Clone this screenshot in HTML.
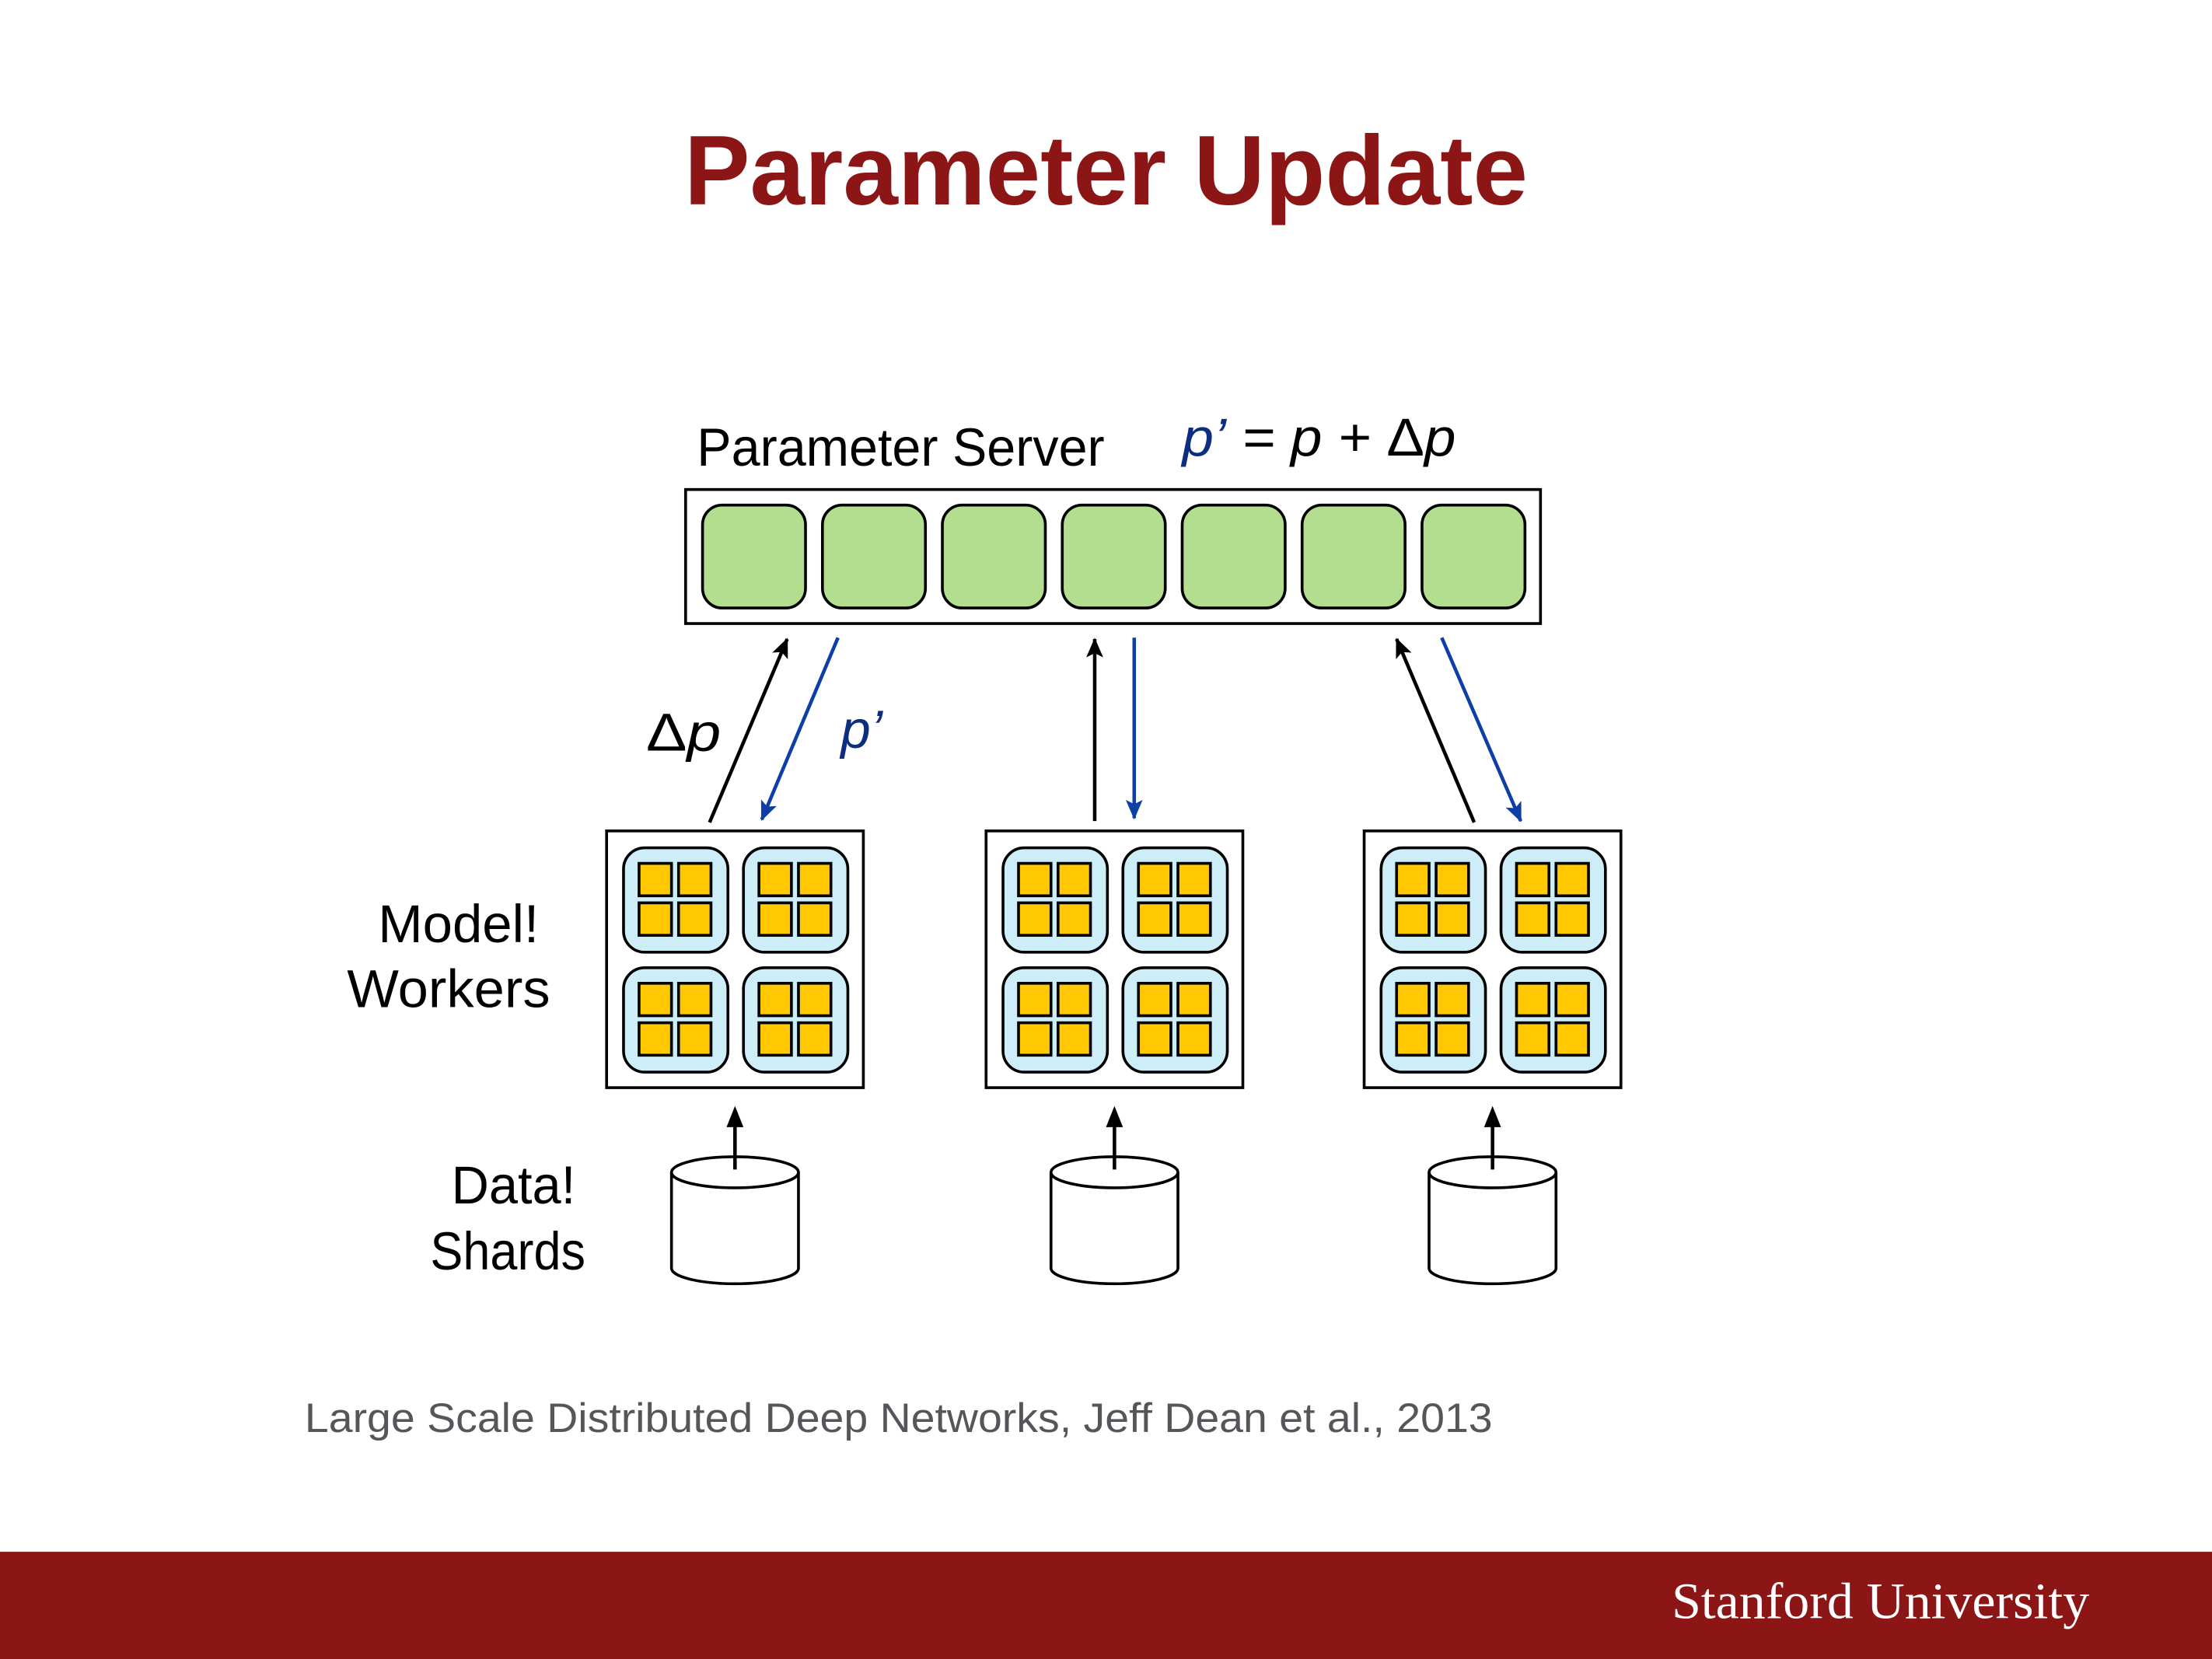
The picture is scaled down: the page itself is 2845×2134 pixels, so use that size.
<!DOCTYPE html>
<html><head><meta charset="utf-8"><style>html,body{margin:0;padding:0;background:#fff}svg{display:block}</style></head>
<body>
<svg width="2845" height="2134" viewBox="0 0 1568 1176" preserveAspectRatio="none" xmlns="http://www.w3.org/2000/svg">
<defs>
<g id="tile">
<rect x="0" y="0" width="74" height="74" rx="15" fill="#cdeef9" stroke="#000" stroke-width="2"/>
<rect x="11" y="11" width="23" height="23" fill="#ffc800" stroke="#000" stroke-width="2"/>
<rect x="39" y="11" width="23" height="23" fill="#ffc800" stroke="#000" stroke-width="2"/>
<rect x="11" y="39" width="23" height="23" fill="#ffc800" stroke="#000" stroke-width="2"/>
<rect x="39" y="39" width="23" height="23" fill="#ffc800" stroke="#000" stroke-width="2"/>
</g>
<g id="worker">
<rect x="0" y="0" width="182" height="182" fill="#fff" stroke="#000" stroke-width="2"/>
<use href="#tile" x="12" y="12"/><use href="#tile" x="97" y="12"/>
<use href="#tile" x="12" y="97"/><use href="#tile" x="97" y="97"/>
</g>
<g id="cyl">
<path d="M-45,831 L-45,899 A45,11 0 0 0 45,899 L45,831" fill="#fff" stroke="#000" stroke-width="2"/>
<ellipse cx="0" cy="831" rx="45" ry="11" fill="#fff" stroke="#000" stroke-width="2"/>
<line x1="0" y1="829" x2="0" y2="794" stroke="#000" stroke-width="2.5"/>
<path d="M-6,799 L0,784 L6,799 Z" fill="#000"/>
</g>
<marker id="ab" markerWidth="14" markerHeight="12" refX="13" refY="6" orient="auto" markerUnits="userSpaceOnUse"><path d="M0,0 L14,6 L0,12 L3,6 Z" fill="#000"/></marker>
<marker id="au" markerWidth="14" markerHeight="12" refX="13" refY="6" orient="auto" markerUnits="userSpaceOnUse"><path d="M0,0 L14,6 L0,12 L3,6 Z" fill="#0d3fa6"/></marker>
</defs>
<text x="784" y="145" text-anchor="middle" font-family="Liberation Sans, sans-serif" font-weight="bold" font-size="70" fill="#8c1515" textLength="598" lengthAdjust="spacingAndGlyphs">Parameter Update</text>
<text x="494" y="330" font-family="Liberation Sans, sans-serif" font-size="38" fill="#000" textLength="289" lengthAdjust="spacingAndGlyphs">Parameter Server</text>
<text x="838" y="323" font-family="Liberation Sans, sans-serif" font-size="38" font-style="italic" fill="#000" textLength="194" lengthAdjust="spacingAndGlyphs"><tspan fill="#0d2d80">p’</tspan> = p + <tspan font-style="normal">Δ</tspan>p</text>
<rect x="486" y="347" width="606" height="95" fill="#fff" stroke="#000" stroke-width="2"/>
<g fill="#b3dd8f" stroke="#000" stroke-width="2">
<rect x="498" y="358" width="73" height="73" rx="14"/><rect x="583" y="358" width="73" height="73" rx="14"/>
<rect x="668" y="358" width="73" height="73" rx="14"/><rect x="753" y="358" width="73" height="73" rx="14"/>
<rect x="838" y="358" width="73" height="73" rx="14"/><rect x="923" y="358" width="73" height="73" rx="14"/>
<rect x="1008" y="358" width="73" height="73" rx="14"/>
</g>
<g stroke-width="2.5">
<line x1="503" y1="583" x2="558" y2="453" stroke="#000" marker-end="url(#ab)"/>
<line x1="594" y1="452" x2="540" y2="581" stroke="#0d3fa6" marker-end="url(#au)"/>
<line x1="776" y1="582" x2="776" y2="453" stroke="#000" marker-end="url(#ab)"/>
<line x1="804" y1="452" x2="804" y2="580" stroke="#0d3fa6" marker-end="url(#au)"/>
<line x1="1045" y1="583" x2="990" y2="453" stroke="#000" marker-end="url(#ab)"/>
<line x1="1022" y1="452" x2="1078" y2="582" stroke="#0d3fa6" marker-end="url(#au)"/>
</g>
<text x="458" y="532" font-family="Liberation Sans, sans-serif" font-size="38" fill="#000" textLength="53" lengthAdjust="spacingAndGlyphs">Δ<tspan font-style="italic">p</tspan></text>
<text x="596" y="530" font-family="Liberation Sans, sans-serif" font-size="38" font-style="italic" fill="#0d2d80">p’</text>
<use href="#worker" x="430" y="589"/><use href="#worker" x="699" y="589"/><use href="#worker" x="967" y="589"/>
<g font-family="Liberation Sans, sans-serif" font-size="38" fill="#000" lengthAdjust="spacingAndGlyphs">
<text x="268" y="668" textLength="114" lengthAdjust="spacingAndGlyphs">Model!</text>
<text x="246" y="714" textLength="144" lengthAdjust="spacingAndGlyphs">Workers</text>
<text x="320" y="853" textLength="88" lengthAdjust="spacingAndGlyphs">Data!</text>
<text x="305" y="900" textLength="110" lengthAdjust="spacingAndGlyphs">Shards</text>
</g>
<use href="#cyl" x="521" y="0"/><use href="#cyl" x="790" y="0"/><use href="#cyl" x="1058" y="0"/>
<text x="216" y="1015" font-family="Liberation Sans, sans-serif" font-size="29" fill="#55565a" textLength="842" lengthAdjust="spacingAndGlyphs">Large Scale Distributed Deep Networks, Jeff Dean et al., 2013</text>
<rect x="0" y="1100" width="1568" height="76" fill="#8c1515"/>
<text x="1185" y="1147" font-family="Liberation Serif, serif" font-size="36" fill="#fff" textLength="296" lengthAdjust="spacingAndGlyphs">Stanford University</text>
</svg>
</body></html>
